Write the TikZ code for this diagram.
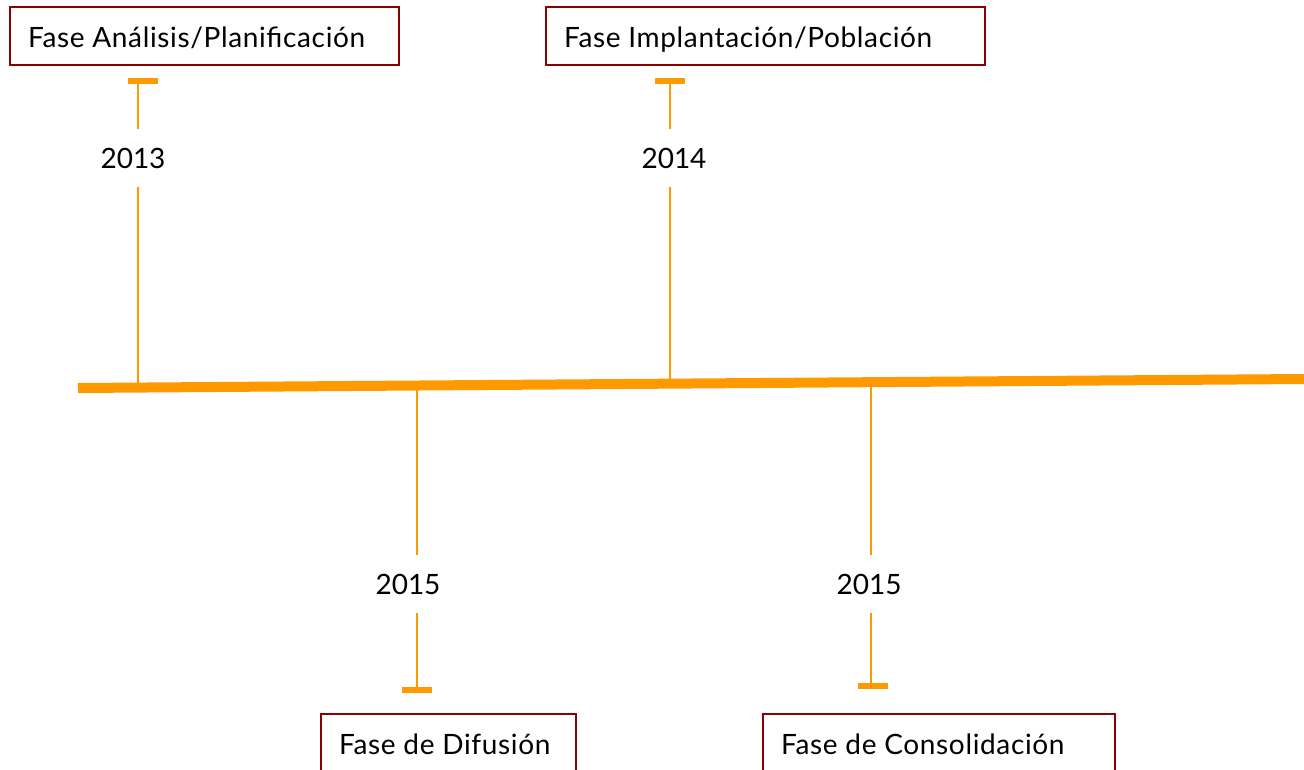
\documentclass[tikz,border=0pt]{standalone}
\usepackage{fontspec}
\setmainfont{Lato}
\definecolor{orng}{HTML}{FF9900}
\definecolor{dred}{HTML}{8B0000}
\begin{document}
\begin{tikzpicture}[x=1pt,y=-1pt,
 phase/.style={draw=dred, line width=2pt, anchor=north west, minimum height=58pt, inner xsep=18pt, text height=22pt, text depth=0pt, font=\fontsize{28}{32}\selectfont\addfontfeatures{LetterSpace=2.3}},
 year/.style={inner sep=0pt, minimum height=57pt, font=\fontsize{28}{32}\selectfont},
 stem/.style={draw=orng, line width=2pt},
 tbar/.style={draw=orng, line width=6pt},
 axis/.style={draw=orng, line width=10pt}]
\useasboundingbox (0,0) rectangle (1304,769);
\clip (0,0) rectangle (1304,769);
% boxes
\node[phase] (p1) at (9,6) {\makebox[353pt][l]{Fase Análisis/Planificación}};
\node[phase] (p2) at (545,6) {\makebox[403pt][l]{Fase Implantación/Población}};
\node[phase] (p3) at (320,713) {\makebox[219pt][l]{Fase de Difusión}};
\node[phase] (p4) at (762,713) {\makebox[316pt][l]{Fase de Consolidación}};
% axis
\coordinate (a0) at (78,388);
\coordinate (a1) at (1304,379);
\draw[axis] (a0) -- (a1);
% meeting points
\coordinate (m1) at (138,387.6);
\coordinate (m2) at (670,383.7);
\coordinate (m3) at (417,385.5);
\coordinate (m4) at (871,382.2);
% bar points
\coordinate (t1) at (138,81);
\coordinate (t2) at (670,81);
\coordinate (t3) at (417,689.5);
\coordinate (t4) at (871,685.5);
% years
\node[year] (y1) at (133,158) {2013};
\node[year] (y2) at (674,158) {2014};
\node[year, minimum height=58pt] (y3) at (408,584) {2015};
\node[year, minimum height=58pt] (y4) at (869,584) {2015};
% stems
\draw[stem] (t1) -- (t1 |- y1.north);
\draw[stem] (y1.south -| t1) -- (m1);
\draw[stem] (t2) -- (t2 |- y2.north);
\draw[stem] (y2.south -| t2) -- (m2);
\draw[stem] (m3) -- (m3 |- y3.north);
\draw[stem] (y3.south -| t3) -- (t3);
\draw[stem] (m4) -- (m4 |- y4.north);
\draw[stem] (y4.south -| t4) -- (t4);
% bars
\draw[tbar] ([xshift=-10pt]t1) -- ([xshift=20pt]t1);
\draw[tbar] ([xshift=-15pt]t2) -- ([xshift=15pt]t2);
\draw[tbar] ([xshift=-15pt]t3) -- ([xshift=15pt]t3);
\draw[tbar] ([xshift=-13pt]t4) -- ([xshift=17pt]t4);
\end{tikzpicture}
\end{document}
